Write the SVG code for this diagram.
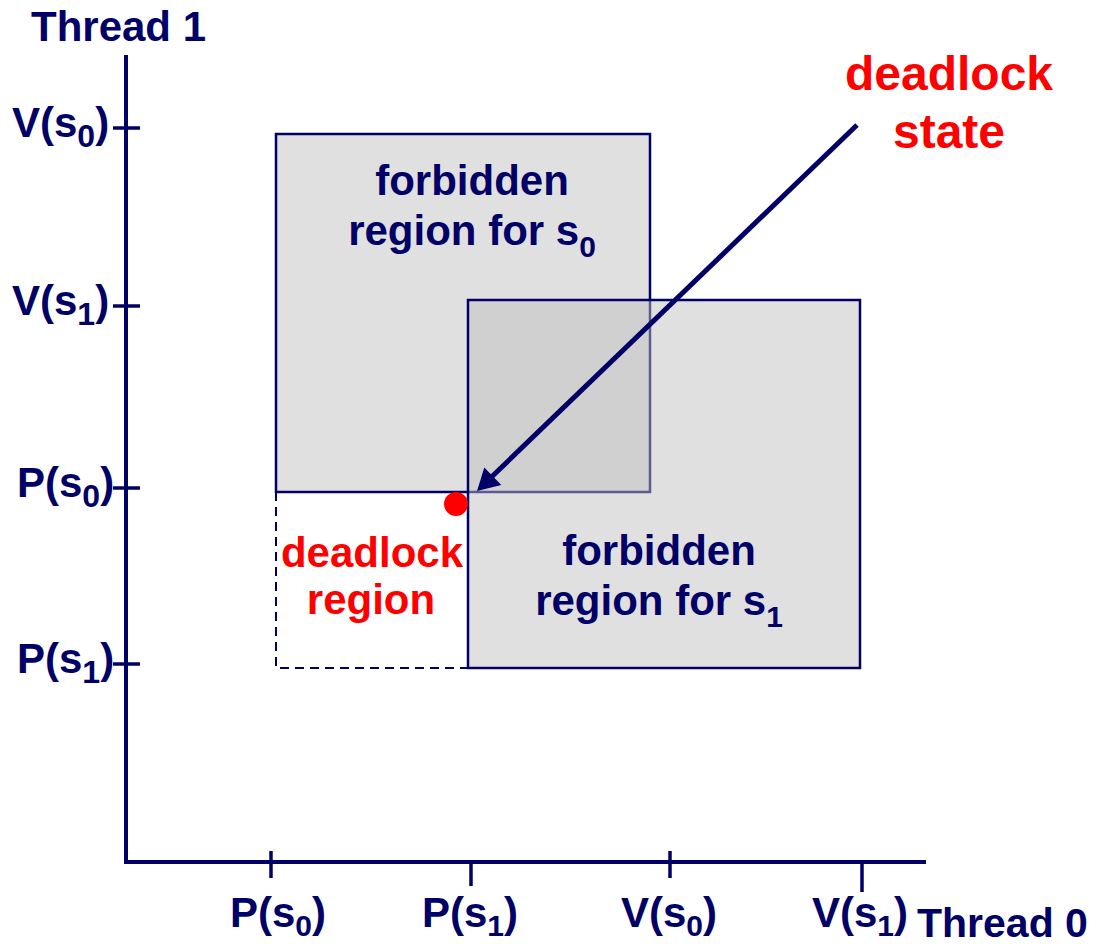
<svg xmlns="http://www.w3.org/2000/svg" width="1096" height="944" viewBox="0 0 1096 944">
<style>
.ax{stroke:#000066;stroke-width:4;fill:none}
.tk{stroke:#000066;stroke-width:3.5;fill:none}
.lb{font-family:"Liberation Sans",Arial,sans-serif;font-weight:bold;font-size:42px;fill:#000066}
.rd{fill:#ff0000}
.dash{stroke:#000066;stroke-width:2;stroke-dasharray:9,6;fill:none}
</style>
<rect width="1096" height="944" fill="#ffffff"/>
<g id="region-s0">
<rect x="276" y="134" width="374" height="358" fill="#e0e0e0" stroke="#000066" stroke-width="2.5"/>
<text class="lb" x="472" y="195" text-anchor="middle">forbidden</text>
<text class="lb" x="472" y="245" text-anchor="middle">region for s<tspan font-size="30" dy="12">0</tspan></text>
</g>
<g id="region-s1">
<rect x="468" y="300" width="392" height="368" fill="#bfbfbf" fill-opacity="0.484" stroke="#000066" stroke-width="2.5"/>
<text class="lb" x="659" y="565" text-anchor="middle">forbidden</text>
<text class="lb" x="659" y="615" text-anchor="middle">region for s<tspan font-size="30" dy="12">1</tspan></text>
</g>
<g id="deadlock-region">
<path class="dash" d="M276,492 V668 H468"/>
<text class="lb rd" x="372" y="567" text-anchor="middle">deadlock</text>
<text class="lb rd" x="371" y="614" text-anchor="middle">region</text>
</g>
<g id="axes">
<line class="ax" x1="126" y1="55" x2="126" y2="864"/>
<line class="ax" x1="124" y1="862" x2="926" y2="862"/>
<line class="tk" x1="113" y1="128" x2="140" y2="128"/>
<line class="tk" x1="113" y1="306" x2="140" y2="306"/>
<line class="tk" x1="113" y1="488" x2="140" y2="488"/>
<line class="tk" x1="113" y1="664" x2="140" y2="664"/>
<line class="tk" x1="271" y1="851" x2="271" y2="878"/>
<line class="tk" x1="471" y1="862" x2="471" y2="886"/>
<line class="tk" x1="670" y1="851" x2="670" y2="878"/>
<line class="tk" x1="862" y1="862" x2="862" y2="892"/>
<text class="lb" x="31" y="41">Thread 1</text>
<text class="lb" x="917" y="937" style="font-size:41px">Thread 0</text>
<text class="lb" x="12" y="137">V(s<tspan font-size="32" dy="10">0</tspan><tspan dy="-10">)</tspan></text>
<text class="lb" x="12" y="315">V(s<tspan font-size="32" dy="10">1</tspan><tspan dy="-10">)</tspan></text>
<text class="lb" x="17" y="497">P(s<tspan font-size="32" dy="10">0</tspan><tspan dy="-10">)</tspan></text>
<text class="lb" x="17" y="673">P(s<tspan font-size="32" dy="10">1</tspan><tspan dy="-10">)</tspan></text>
<text class="lb" x="278" y="927" text-anchor="middle">P(s<tspan font-size="30" dy="9">0</tspan><tspan dy="-9">)</tspan></text>
<text class="lb" x="470" y="927" text-anchor="middle">P(s<tspan font-size="30" dy="9">1</tspan><tspan dy="-9">)</tspan></text>
<text class="lb" x="669" y="927" text-anchor="middle">V(s<tspan font-size="30" dy="9">0</tspan><tspan dy="-9">)</tspan></text>
<text class="lb" x="860" y="927" text-anchor="middle">V(s<tspan font-size="30" dy="9">1</tspan><tspan dy="-9">)</tspan></text>
</g>
<g id="deadlock-state">
<circle cx="456" cy="504" r="12" fill="#ff0000"/>
<text class="lb rd" x="949" y="90" text-anchor="middle" style="font-size:48px">deadlock</text>
<text class="lb rd" x="949" y="148" text-anchor="middle" style="font-size:48px">state</text>
</g>
<g id="connectors">
<line x1="857" y1="125" x2="492" y2="476.5" stroke="#000066" stroke-width="5"/>
<polygon points="477,491 484.3,467.5 501.3,485.1" fill="#000066"/>
</g>
</svg>
